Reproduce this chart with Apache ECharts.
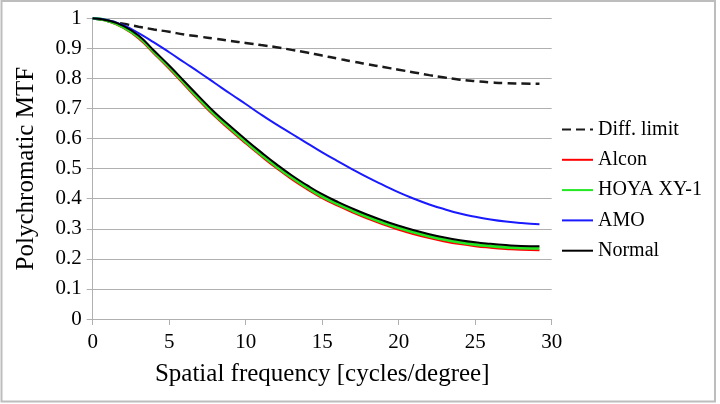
<!DOCTYPE html>
<html>
<head>
<meta charset="utf-8">
<script src="https://cdn.jsdelivr.net/npm/echarts@6/dist/echarts.min.js"></script>
<style>html,body{margin:0;padding:0;background:#fff}#c{width:720px;height:404px}</style>
</head>
<body>
<div id="c"></div>
<script>
var freq = [0,1,2,3,4,5,6,7,8,9,10,11,12,13,14,15,16,17,18,19,20,21,22,23,24,25,26,27,28,29.2];
var diffLimit = [1.0,0.991,0.982,0.972,0.963,0.955,0.946,0.939,0.932,0.925,0.918,0.911,0.904,0.895,0.886,0.876,0.866,0.856,0.847,0.838,0.829,0.82,0.811,0.803,0.796,0.791,0.787,0.784,0.783,0.782];
var alcon = [1.0,0.99,0.968,0.933,0.883,0.832,0.778,0.724,0.673,0.628,0.584,0.542,0.502,0.465,0.432,0.402,0.377,0.354,0.333,0.314,0.297,0.282,0.269,0.258,0.249,0.242,0.237,0.233,0.23,0.229];
var hoya = [1.0,0.992,0.971,0.938,0.888,0.838,0.784,0.73,0.679,0.634,0.59,0.548,0.508,0.471,0.438,0.408,0.383,0.36,0.339,0.32,0.303,0.288,0.275,0.264,0.255,0.248,0.243,0.239,0.236,0.235];
var amo = [1.0,0.994,0.977,0.951,0.92,0.887,0.853,0.819,0.784,0.749,0.715,0.68,0.647,0.616,0.585,0.554,0.525,0.497,0.47,0.445,0.421,0.4,0.381,0.365,0.351,0.34,0.331,0.324,0.319,0.315];
var normal = [1.0,0.993,0.975,0.943,0.893,0.843,0.79,0.737,0.686,0.641,0.597,0.555,0.515,0.478,0.445,0.415,0.39,0.367,0.346,0.327,0.31,0.295,0.282,0.271,0.262,0.255,0.25,0.246,0.243,0.242];
var seriesNames = ['Diff. limit','Alcon','HOYA XY-1','AMO','Normal'];

function pairs(arr){ return freq.map(function(f,i){ return [f, arr[i]]; }); }

var FONT = 'Liberation Serif, Times New Roman, serif';
var chart = echarts.init(document.getElementById('c'), null, {renderer:'canvas'});
chart.setOption({
  animation: false,
  backgroundColor: '#fff',
  textStyle: {fontFamily: FONT, color: '#000'},
  graphic: [{
    type: 'rect', shape: {x: 1.5, y: 1, width: 713.5, height: 400.5},
    style: {fill: 'none', stroke: '#bdbdbd', lineWidth: 2}, silent: true, z: -1
  }],
  grid: {left: 92.7, right: 168.3, top: 18.3, bottom: 85, containLabel: false},
  legend: {
    orient: 'vertical', left: 556, top: 114.5,
    itemWidth: 31, itemHeight: 14, itemGap: 10.3,
    itemStyle: {opacity: 0},
    textStyle: {fontFamily: FONT, fontSize: 20, color: '#000', lineHeight: 20},
    data: seriesNames
  },
  xAxis: {
    type: 'value', min: 0, max: 30, interval: 5,
    name: 'Spatial frequency [cycles/degree]', nameLocation: 'middle', nameGap: 43,
    nameTextStyle: {fontFamily: FONT, fontSize: 25, color: '#000'},
    axisLine: {show: true, lineStyle: {color: '#b0b0b0', width: 1}},
    axisTick: {show: true, length: 6, lineStyle: {color: '#b0b0b0'}},
    axisLabel: {fontFamily: FONT, fontSize: 21, color: '#000', margin: 13},
    splitLine: {show: false}
  },
  yAxis: {
    type: 'value', min: 0, max: 1, interval: 0.1,
    name: 'Polychromatic MTF', nameLocation: 'middle', nameGap: 54,
    nameTextStyle: {fontFamily: FONT, fontSize: 25, color: '#000'},
    axisLine: {show: true, lineStyle: {color: '#b0b0b0', width: 1}},
    axisTick: {show: true, length: 6, lineStyle: {color: '#b0b0b0'}},
    axisLabel: {fontFamily: FONT, fontSize: 21, color: '#000', margin: 11,
      formatter: function(v){ return String(Math.round(v*10)/10); }},
    splitLine: {show: true, lineStyle: {color: '#b0b0b0', width: 1}}
  },
  series: [
    {name: seriesNames[0], type: 'line', smooth: true, symbol: 'none', data: pairs(diffLimit),
     lineStyle: {color: '#1a1a1a', width: 2.5, type: [9,5]}, itemStyle: {color: '#1a1a1a'}},
    {name: seriesNames[1], type: 'line', smooth: true, symbol: 'none', data: pairs(alcon),
     lineStyle: {color: '#ff0000', width: 2}, itemStyle: {color: '#ff0000'}},
    {name: seriesNames[2], type: 'line', smooth: true, symbol: 'none', data: pairs(hoya),
     lineStyle: {color: '#22e822', width: 3}, itemStyle: {color: '#22e822'}},
    {name: seriesNames[3], type: 'line', smooth: true, symbol: 'none', data: pairs(amo),
     lineStyle: {color: '#1a1aff', width: 2}, itemStyle: {color: '#1a1aff'}},
    {name: seriesNames[4], type: 'line', smooth: true, symbol: 'none', data: pairs(normal),
     lineStyle: {color: '#000000', width: 2}, itemStyle: {color: '#000000'}}
  ]
});
</script>
</body>
</html>
